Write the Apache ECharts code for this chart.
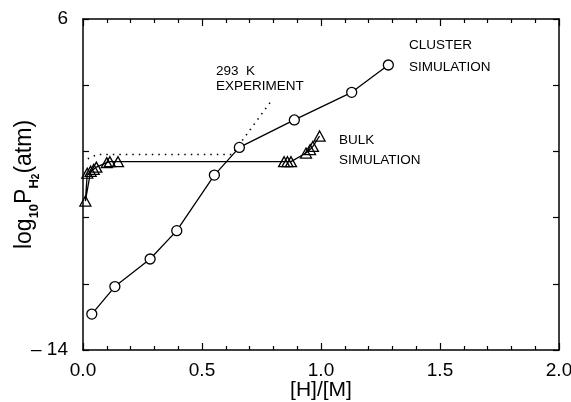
<!DOCTYPE html>
<html><head><meta charset="utf-8">
<script src="https://cdn.jsdelivr.net/npm/echarts@6/dist/echarts.min.js"></script>
<style>html,body{margin:0;padding:0;background:#fff}#c{width:571px;height:402px}</style>
</head><body><div id="c"></div>
<script>
// Cluster simulation (circles)
const clusterX = [0.037, 0.134, 0.282, 0.394, 0.552, 0.657, 0.888, 1.129, 1.283];
const clusterY = [-11.83, -10.17, -8.50, -6.79, -3.43, -1.76, -0.10, 1.57, 3.22];
// Bulk simulation (triangles)
const bulkX = [0.018, 0.010, 0.032, 0.045, 0.056, 0.100, 0.113, 0.147, 0.845, 0.859, 0.874, 0.937, 0.954, 0.966, 0.994];
const bulkY = [-3.32, -5.00, -3.20, -3.08, -2.95, -2.68, -2.62, -2.62, -2.62, -2.62, -2.62, -2.10, -1.89, -1.70, -1.07];
// 293 K experiment (dotted)
const exptX = [0.020, 0.059, 0.626, 0.794];
const exptY = [-2.45, -2.19, -2.19, 1.11];
// Axis labels
const xTickLabels = ['0.0', '0.5', '1.0', '1.5', '2.0'];
const yTickLabels = {'6': '6', '-14': '\u2013 14'};

const zip = (a, b) => a.map((v, i) => [v, b[i]]);
const FONT = 'Liberation Sans';
const chart = echarts.init(document.getElementById('c'), null, {renderer: 'canvas'});
const axisCommon = {
  axisLine: {show: true, onZero: false, lineStyle: {color: '#000', width: 1.5}},
  splitLine: {show: false}
};
chart.setOption({
  animation: false,
  backgroundColor: '#fff',
  grid: {left: 83, right: 12, top: 19, bottom: 52, containLabel: false, outerBoundsMode: 'none'},
  xAxis: [{
    type: 'value', min: 0, max: 2, interval: 0.5, position: 'bottom',
    ...axisCommon,
    axisTick: {show: true, inside: true, length: 7, lineStyle: {color: '#000', width: 1.2}},
    minorTick: {show: true, splitNumber: 5, length: 4, lineStyle: {color: '#000', width: 1.2}},
    axisLabel: {color: '#000', fontSize: 19, fontFamily: FONT, margin: 11,
      formatter: v => xTickLabels[Math.round(v / 0.5)]},
    name: '[H]/[M]', nameLocation: 'middle', nameGap: 29, nameMoveOverlap: false,
    nameTextStyle: {color: '#000', fontSize: 21, fontFamily: FONT, lineHeight: 22}
  }, {
    type: 'value', min: 0, max: 2, interval: 0.5, position: 'top',
    ...axisCommon,
    axisTick: {show: true, inside: true, length: 7, lineStyle: {color: '#000', width: 1.2}},
    minorTick: {show: true, splitNumber: 5, length: 4, lineStyle: {color: '#000', width: 1.2}},
    axisLabel: {show: false}
  }],
  yAxis: [{
    type: 'value', min: -14, max: 6, interval: 4, position: 'left',
    ...axisCommon,
    axisTick: {show: true, inside: true, length: 6, lineStyle: {color: '#000', width: 1.2}},
    axisLabel: {color: '#000', fontSize: 19, fontFamily: FONT, margin: 15,
      formatter: v => yTickLabels[String(v)] || ''},
    name: '{a|log}{s|10}{a|P}{s|H}{t|2}{a|(atm)}',
    nameLocation: 'middle', nameGap: 42, nameRotate: 90, nameMoveOverlap: false,
    nameTextStyle: {
      color: '#000', fontFamily: FONT,
      rich: {
        a: {fontSize: 23, fontFamily: FONT, color: '#000', lineHeight: 32, verticalAlign: 'middle'},
        s: {fontSize: 13, fontFamily: FONT, color: '#000', lineHeight: 14, verticalAlign: 'bottom', fontWeight: 'bold'},
        t: {fontSize: 10, fontFamily: FONT, color: '#000', lineHeight: 9, verticalAlign: 'bottom', fontWeight: 'bold'}
      }
    }
  }, {
    type: 'value', min: -14, max: 6, interval: 4, position: 'right',
    ...axisCommon,
    axisTick: {show: true, inside: true, length: 6, lineStyle: {color: '#000', width: 1.2}},
    axisLabel: {show: false}
  }],
  series: [{
    type: 'line', name: '293 K experiment', data: zip(exptX, exptY),
    showSymbol: false, symbol: 'none', z: 1,
    lineStyle: {color: '#000', width: 1.6, type: [1.5, 5]}
  }, {
    type: 'line', name: 'bulk', data: zip(bulkX, bulkY),
    symbol: 'triangle', symbolSize: [11, 10], z: 2,
    lineStyle: {color: '#000', width: 1.3},
    itemStyle: {color: 'rgba(0,0,0,0)', borderColor: '#000', borderWidth: 1.3}
  }, {
    type: 'line', name: 'cluster', data: zip(clusterX, clusterY),
    symbol: 'circle', symbolSize: 10, z: 3,
    lineStyle: {color: '#000', width: 1.3},
    itemStyle: {color: '#fff', borderColor: '#000', borderWidth: 1.3}
  }],
  graphic: [
    {type: 'text', left: 216, top: 64, style: {text: '293  K', font: '13.5px "Liberation Sans"', fill: '#000'}},
    {type: 'text', left: 216, top: 79, style: {text: 'EXPERIMENT', font: '13.5px "Liberation Sans"', fill: '#000'}},
    {type: 'text', left: 409, top: 38, style: {text: 'CLUSTER', font: '13.5px "Liberation Sans"', fill: '#000'}},
    {type: 'text', left: 409, top: 60, style: {text: 'SIMULATION', font: '13.5px "Liberation Sans"', fill: '#000'}},
    {type: 'text', left: 339, top: 133, style: {text: 'BULK', font: '13.5px "Liberation Sans"', fill: '#000'}},
    {type: 'text', left: 339, top: 153, style: {text: 'SIMULATION', font: '13.5px "Liberation Sans"', fill: '#000'}}
  ]
});
</script></body></html>
